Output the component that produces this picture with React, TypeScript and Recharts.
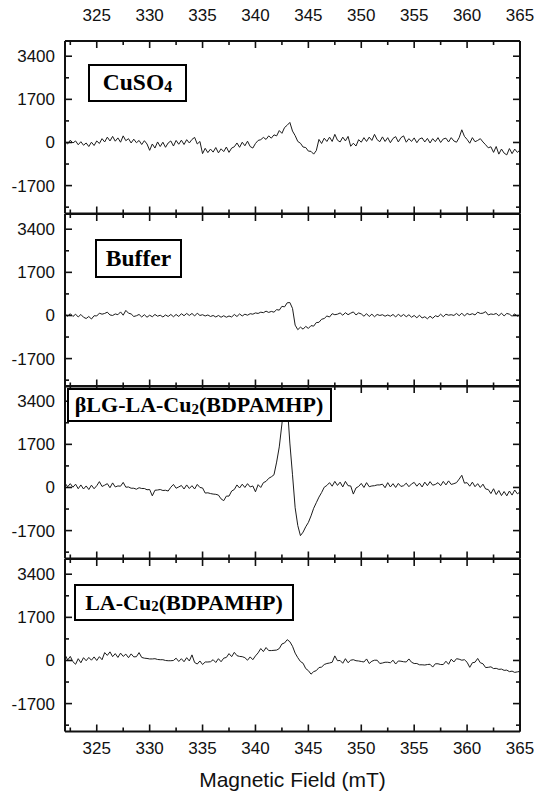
import React from 'react'
import { LineChart, Line, XAxis, YAxis } from 'recharts'

// magnetic field sweep (mT), 0.25 mT steps
const FIELD = [
  322, 322.25, 322.5, 322.75, 323, 323.25, 323.5, 323.75, 324, 324.25, 324.5, 324.75,
  325, 325.25, 325.5, 325.75, 326, 326.25, 326.5, 326.75, 327, 327.25, 327.5, 327.75,
  328, 328.25, 328.5, 328.75, 329, 329.25, 329.5, 329.75, 330, 330.25, 330.5, 330.75,
  331, 331.25, 331.5, 331.75, 332, 332.25, 332.5, 332.75, 333, 333.25, 333.5, 333.75,
  334, 334.25, 334.5, 334.75, 335, 335.25, 335.5, 335.75, 336, 336.25, 336.5, 336.75,
  337, 337.25, 337.5, 337.75, 338, 338.25, 338.5, 338.75, 339, 339.25, 339.5, 339.75,
  340, 340.25, 340.5, 340.75, 341, 341.25, 341.5, 341.75, 342, 342.25, 342.5, 342.75,
  343, 343.25, 343.5, 343.75, 344, 344.25, 344.5, 344.75, 345, 345.25, 345.5, 345.75,
  346, 346.25, 346.5, 346.75, 347, 347.25, 347.5, 347.75, 348, 348.25, 348.5, 348.75,
  349, 349.25, 349.5, 349.75, 350, 350.25, 350.5, 350.75, 351, 351.25, 351.5, 351.75,
  352, 352.25, 352.5, 352.75, 353, 353.25, 353.5, 353.75, 354, 354.25, 354.5, 354.75,
  355, 355.25, 355.5, 355.75, 356, 356.25, 356.5, 356.75, 357, 357.25, 357.5, 357.75,
  358, 358.25, 358.5, 358.75, 359, 359.25, 359.5, 359.75, 360, 360.25, 360.5, 360.75,
  361, 361.25, 361.5, 361.75, 362, 362.25, 362.5, 362.75, 363, 363.25, 363.5, 363.75,
  364, 364.25, 364.5, 364.75, 365,
]

const CUSO4 = [
  40, -60, 90, -20, 60, -90, 30, -110, -20, -160, 10, -120,
  60, -40, 150, 20, 210, 60, 240, 50, 180, 10, 260, 70,
  150, -20, 130, -10, 80, -80, 70, -60, -310, -60, -220, 20,
  -160, 10, -190, -20, 60, -140, 80, -70, 90, -80, 110, -20,
  120, 200, -60, 40, -440, -230, -400, -260, -380, -200, -410, -250,
  -360, -180, -390, -220, -170, -20, -190, 10, -130, 50, -160, -220,
  -40, 80, 110, 200, 120, 260, 170, 300, 260, 470, 360, 590,
  680, 790, 450, 270, 40, -30, -180, -200, -340, -350, -460, -320,
  120, -40, 170, 40, 210, 40, 320, 90, 20, 210, 60, 240,
  -150, -30, -140, 110, 10, 190, 40, 210, 80, 320, 110, 30,
  220, 40, 190, -10, 160, 230, 20, 190, 260, 10, 150, 40,
  180, -10, 140, 180, 20, 160, -20, 150, 30, 190, 0, 140,
  170, 20, 190, 60, 10, 190, 500, 240, 120, -30, 190, 30,
  80, 150, 20, -90, -210, -170, -390, -160, -460, -260, -420, -490,
  -240, -440, -260, -390, -300,
]

const BUFFER = [
  60, -30, 70, -40, 50, -60, 40, -70, -120, -40, -140, -10,
  -20, 90, 50, 80, 130, 20, 0, 60, 30, 140, 10, 200,
  90, 60, -40, -10, 40, -60, 30, -70, 10, -50, 40, -30,
  10, -60, 20, -40, 40, -50, 40, -40, 70, -10, 80, 0,
  80, -20, 90, 0, 30, -20, 20, -40, 0, -60, 0, -70,
  -10, -70, -20, -60, 40, -40, 60, -20, 50, 10, 70, 50,
  100, 80, 130, 110, 170, 120, 160, 130, 230, 210, 360, 340,
  500, 510, 280, -380, -560, -460, -540, -430, -510, -400, -420, -280,
  -270, -150, -120, -20, -60, 70, 30, 50, 100, 10, 110, 30,
  90, 140, 20, 100, 60, -30, 70, -40, 50, -50, 40, 0,
  30, -30, 20, -30, 40, -60, 50, -40, 40, -50, 30, -70,
  0, -90, 10, -100, -50, -130, -30, -110, -10, -50, 50, -50,
  50, 10, 30, 0, 80, -10, 90, -20, 80, 30, 70, 20,
  130, 80, 90, 150, 20, 60, 40, 80, -10, 90, -20, 80,
  50, -30, 60, -30, 20,
]

const BLG_LA_CU2 = [
  170, 30, 150, 10, 130, -50, 100, -60, 60, -80, 90, -50,
  70, 230, 40, 90, 150, -10, 180, 20, 60, 50, 200, 10,
  20, -30, -30, -70, -10, -40, -40, -90, -80, -330, -110, -100,
  -80, -120, -110, -140, 10, 120, -30, 20, 80, -60, 100, -40,
  70, -60, 120, 0, -20, -220, -210, -240, -260, -270, -300, -450,
  -520, -340, -340, -140, -80, 100, -20, 130, 0, 150, 20, 60,
  -170, 110, 0, 190, 240, 360, 420, 500, 1000, 1600, 2500, 3500,
  3300, 1750, 500, -800, -1500, -1900, -1760, -1550, -1380, -1120, -820, -600,
  -380, -200, 10, 80, 190, 50, 240, 80, 210, 20, 240, 70,
  60, -260, -20, 40, 160, 0, 190, 30, 60, 70, 100, 100,
  130, -10, 190, 20, 150, 0, 160, 40, 70, 170, 30, 140,
  200, 50, 170, 20, 210, 70, 230, 90, 120, 190, 70, 240,
  100, 260, 120, 150, 190, 330, 480, 170, 190, 50, 210, 30,
  150, 0, 130, -60, -80, -240, -50, -280, -120, -320, -160, -330,
  -140, -300, -100, -250, -180,
]

const LA_CU2 = [
  230, 20, 160, -50, -150, 70, -90, 110, -10, 120, 10, 140,
  0, 150, 30, 310, 200, 340, 150, 270, 120, 290, 160, 250,
  110, 260, 140, 150, 310, 120, 90, 80, 60, 60, 70, 40,
  30, 30, 0, -10, -10, 0, 90, -40, 70, -50, 110, -20,
  220, -80, -140, -20, -160, -60, -60, -50, 30, -80, 70, -50,
  90, 120, 270, 150, 320, 190, 160, 150, 110, 10, 140, 30,
  180, 300, 470, 350, 510, 390, 390, 400, 410, 470, 650, 690,
  820, 740, 560, 290, 110, -40, -110, -320, -400, -540, -440, -400,
  -280, -260, -160, -120, -100, -70, 180, -10, 0, -110, 70, -90,
  10, 30, -10, -20, -40, -60, 60, -120, -30, 10, 10, -120,
  -100, -70, -70, -90, 10, -140, -20, -30, -50, -60, 60, -70,
  -120, -120, -170, -170, -180, -160, -150, -260, -130, -130, -160, -160,
  -30, -150, 50, -60, 70, 50, 10, 30, -70, -270, -90, -70,
  80, -90, -130, -280, -270, -250, -320, -310, -350, -340, -390, -380,
  -440, -420, -470, -450, -430,
]

const X_TICKS = [322.5, 325, 327.5, 330, 332.5, 335, 337.5, 340, 342.5, 345, 347.5, 350, 352.5, 355, 357.5, 360, 362.5, 365]
const X_MAJOR = [325, 330, 335, 340, 345, 350, 355, 360, 365]
const Y_TICKS = [-2550, -1700, -850, 0, 850, 1700, 2550, 3400]
const Y_MAJOR = [-1700, 0, 1700, 3400]

const data = FIELD.map((b, i) => ({
  b,
  cu: CUSO4[i],
  buf: BUFFER[i],
  blg: BLG_LA_CU2[i],
  la: LA_CU2[i],
}))

const W = 536
const PLOT_TOP = 41
const PANEL_H = 172.5
const AXIS_FONT = '"Liberation Sans", Arial, sans-serif'
const SERIF = '"Liberation Serif", "Times New Roman", serif'

function FrameTick(props: any) {
  const { x, y, payload, side, labels, majors } = props
  const v = payload.value
  const major = majors.includes(v)
  const len = major ? 7 : 4
  let x2 = x
  let y2 = y
  let label: React.ReactNode = null
  const textProps = { fontFamily: AXIS_FONT, fontSize: 17, fill: '#111' }
  if (side === 'bottom') {
    y2 = y - len
    if (labels && major) label = <text x={x} y={y + 22} textAnchor="middle" {...textProps}>{v}</text>
  } else if (side === 'top') {
    y2 = y + len
    if (labels && major) label = <text x={x} y={y - 20} textAnchor="middle" {...textProps}>{v}</text>
  } else if (side === 'left') {
    x2 = x + len
    if (labels && major) label = <text x={x - 10} y={y + 6} textAnchor="end" {...textProps}>{v}</text>
  } else {
    x2 = x - len
  }
  return (
    <g>
      <line x1={x} y1={y} x2={x2} y2={y2} stroke="#111" strokeWidth={1.6} />
      {label}
    </g>
  )
}

const PANELS = [
  { key: 'cu', top: true, bottom: false },
  { key: 'buf', top: false, bottom: false },
  { key: 'blg', top: false, bottom: false },
  { key: 'la', top: false, bottom: true },
]

function Panel({ dataKey, top, bottom }: { dataKey: string; top: boolean; bottom: boolean }) {
  return (
    <LineChart
      width={W}
      height={PANEL_H + 2}
      data={data}
      margin={{ top: 0, right: 0, bottom: 0, left: 0 }}
      style={{ overflow: 'visible' }}
    >
      <XAxis
        xAxisId="b"
        dataKey="b"
        type="number"
        domain={[322, 365]}
        allowDataOverflow
        ticks={X_TICKS}
        interval={0}
        height={1}
        tickSize={0}
        tickMargin={0}
        axisLine={{ stroke: '#111', strokeWidth: 2 }}
        tickLine={false}
        tick={(p: any) => <FrameTick {...p} side="bottom" labels={bottom} majors={X_MAJOR} />}
      />
      <XAxis
        xAxisId="t"
        dataKey="b"
        type="number"
        orientation="top"
        domain={[322, 365]}
        allowDataOverflow
        ticks={X_TICKS}
        interval={0}
        height={1}
        tickSize={0}
        tickMargin={0}
        axisLine={{ stroke: '#111', strokeWidth: 2 }}
        tickLine={false}
        tick={(p: any) => <FrameTick {...p} side="top" labels={top} majors={X_MAJOR} />}
      />
      <YAxis
        yAxisId="l"
        type="number"
        domain={[-2800, 4000]}
        allowDataOverflow
        ticks={Y_TICKS}
        interval={0}
        width={65}
        tickSize={0}
        tickMargin={0}
        axisLine={{ stroke: '#111', strokeWidth: 2 }}
        tickLine={false}
        tick={(p: any) => <FrameTick {...p} side="left" labels={true} majors={Y_MAJOR} />}
      />
      <YAxis
        yAxisId="r"
        orientation="right"
        type="number"
        domain={[-2800, 4000]}
        allowDataOverflow
        ticks={Y_TICKS}
        interval={0}
        width={16}
        tickSize={0}
        tickMargin={0}
        axisLine={{ stroke: '#111', strokeWidth: 2 }}
        tickLine={false}
        tick={(p: any) => <FrameTick {...p} side="right" labels={false} majors={Y_MAJOR} />}
      />
      <Line
        xAxisId="b"
        yAxisId="l"
        type="linear"
        dataKey={dataKey}
        stroke="#1c1c1c"
        strokeWidth={1}
        dot={false}
        isAnimationActive={false}
      />
      <Line
        xAxisId="t"
        yAxisId="r"
        type="linear"
        dataKey={dataKey}
        stroke="none"
        dot={false}
        activeDot={false}
        isAnimationActive={false}
      />
    </LineChart>
  )
}

const boxBase: React.CSSProperties = {
  position: 'absolute',
  boxSizing: 'border-box',
  border: '2px solid #000',
  background: '#fff',
  fontFamily: SERIF,
  fontWeight: 'bold',
  fontSize: 22,
  color: '#000',
  display: 'flex',
  alignItems: 'center',
  justifyContent: 'center',
  whiteSpace: 'nowrap',
  lineHeight: 1,
}

const subStyle: React.CSSProperties = {
  fontSize: '0.68em',
  verticalAlign: 'baseline',
  position: 'relative',
  top: '0.28em',
}

export default function App() {
  return (
    <div style={{ position: 'absolute', left: 0, top: 0, width: W, height: 792, background: '#fff' }}>
      <style>{'.recharts-surface{overflow:visible}'}</style>
      {PANELS.map((p, i) => (
        <div key={p.key} style={{ position: 'absolute', left: 0, top: PLOT_TOP + i * PANEL_H - 1 }}>
          <Panel dataKey={p.key} top={p.top} bottom={p.bottom} />
        </div>
      ))}
      <div style={{ ...boxBase, left: 88, top: 64, width: 99, height: 38, fontSize: 23.5 }}>
        CuSO<span style={subStyle}>4</span>
      </div>
      <div style={{ ...boxBase, left: 95, top: 239, width: 87, height: 39, fontSize: 23.5 }}>Buffer</div>
      <div style={{ ...boxBase, left: 66.5, top: 388, width: 265, height: 34 }}>
        βLG-LA-Cu<span style={subStyle}>2</span>(BDPAMHP)
      </div>
      <div style={{ ...boxBase, left: 74, top: 584, width: 220, height: 37 }}>
        LA-Cu<span style={subStyle}>2</span>(BDPAMHP)
      </div>
      <div
        style={{
          position: 'absolute',
          left: 65,
          width: 455,
          top: 768,
          lineHeight: '24px',
          textAlign: 'center',
          fontFamily: AXIS_FONT,
          fontSize: 21,
          color: '#111',
        }}
      >
        Magnetic Field (mT)
      </div>
    </div>
  )
}
